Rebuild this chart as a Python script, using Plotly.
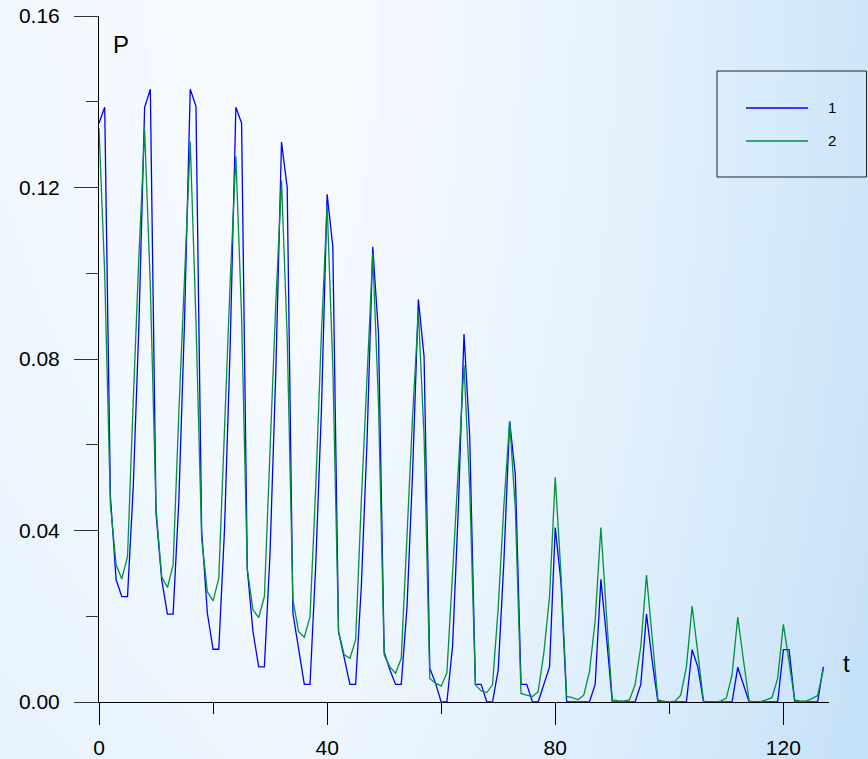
import base64, zlib, struct
import plotly.graph_objects as go

# ---------------- data ----------------
t = list(range(128))

series1 = [
    0.135, 0.1387, 0.048, 0.0285, 0.0246, 0.0246, 0.050, 0.088,
    0.1387, 0.1429, 0.044, 0.0285, 0.0205, 0.0205, 0.047, 0.089,
    0.1429, 0.139, 0.040, 0.0207, 0.0123, 0.0123, 0.040, 0.083,
    0.1387, 0.135, 0.031, 0.0164, 0.0082, 0.0082, 0.035, 0.077,
    0.1306, 0.120, 0.0207, 0.0127, 0.0041, 0.0041, 0.032, 0.068,
    0.1184, 0.1062, 0.0164, 0.0103, 0.0041, 0.0041, 0.027, 0.061,
    0.1062, 0.086, 0.0117, 0.0075, 0.0041, 0.0041, 0.022, 0.054,
    0.0939, 0.0805, 0.0079, 0.0044, 0.0, 0.0, 0.013, 0.045,
    0.0858, 0.062, 0.0041, 0.0041, 0.0, 0.0, 0.0075, 0.033,
    0.0655, 0.053, 0.0041, 0.0041, 0.0, 0.0, 0.0041, 0.0082,
    0.0407, 0.028, 0.0, 0.0, 0.0, 0.0, 0.0, 0.0041,
    0.0286, 0.015, 0.0, 0.0, 0.0, 0.0, 0.0, 0.0041,
    0.0205, 0.0096, 0.0, 0.0, 0.0, 0.0, 0.0, 0.0,
    0.0122, 0.0082, 0.0, 0.0, 0.0, 0.0, 0.0, 0.0,
    0.0081, 0.0041, 0.0, 0.0, 0.0, 0.0, 0.0, 0.0,
    0.0122, 0.0122, 0.0, 0.0, 0.0, 0.0, 0.0, 0.0082,
]

series2 = [
    0.1338, 0.100, 0.046, 0.032, 0.0287, 0.0339, 0.070, 0.104,
    0.1334, 0.097, 0.045, 0.0292, 0.0267, 0.032, 0.0675, 0.101,
    0.1307, 0.089, 0.038, 0.0257, 0.0236, 0.0288, 0.064, 0.098,
    0.1273, 0.090, 0.031, 0.0215, 0.0197, 0.0246, 0.059, 0.093,
    0.1216, 0.085, 0.0238, 0.0164, 0.0151, 0.0199, 0.050, 0.086,
    0.116, 0.078, 0.0164, 0.011, 0.0102, 0.0145, 0.047, 0.077,
    0.1046, 0.070, 0.011, 0.0082, 0.0067, 0.0102, 0.039, 0.067,
    0.091, 0.062, 0.0055, 0.0044, 0.0037, 0.0068, 0.030, 0.056,
    0.0786, 0.050, 0.004, 0.0026, 0.0022, 0.004, 0.022, 0.046,
    0.0655, 0.045, 0.002, 0.0016, 0.0013, 0.0024, 0.0114, 0.0246,
    0.0524, 0.030, 0.0013, 0.001, 0.0005, 0.0016, 0.0071, 0.019,
    0.0407, 0.020, 0.0005, 0.0003, 0.0002, 0.0005, 0.004, 0.013,
    0.0296, 0.015, 0.0005, 0.0002, 0.0, 0.0002, 0.0016, 0.0082,
    0.0224, 0.0114, 0.0002, 0.0, 0.0, 0.0002, 0.0009, 0.0063,
    0.0198, 0.0098, 0.0002, 0.0, 0.0001, 0.0005, 0.001, 0.0055,
    0.0181, 0.0093, 0.0005, 0.0002, 0.0002, 0.0008, 0.0015, 0.0075,
]

x_ticks = [0, 40, 80, 120]
x_minor = [20, 60, 100]
y_ticks = [0.0, 0.04, 0.08, 0.12, 0.16]
y_tick_text = ["0.00", "0.04", "0.08", "0.12", "0.16"]
y_minor = [0.02, 0.06, 0.10, 0.14]
names = ["1", "2"]
colors = ["#0000ff", "#00913c"]

# ---------------- background gradient image ----------------
FW, FH = 868, 759
L, R, T, B = 99, 39, 16, 57


def bg_color(x, y):
    c0 = (247, 251, 255)
    c1 = (198, 226, 248)
    f = 0.0
    if x > 260:
        f += 0.85 * ((x - 260) / (FW - 260)) ** 1.6
    else:
        f += 0.14 * ((260 - x) / 260)
    f += 0.2 * (y / FH) ** 2
    f = max(0.0, min(1.0, f))
    return tuple(int(round(a + (b - a) * f)) for a, b in zip(c0, c1))


def make_png(w, h):
    raw = bytearray()
    for j in range(h):
        raw.append(0)
        y = (j + 0.5) / h * FH
        for i in range(w):
            x = (i + 0.5) / w * FW
            raw += bytes(bg_color(x, y))

    def chunk(tp, data):
        c = struct.pack(">I", len(data)) + tp + data
        return c + struct.pack(">I", zlib.crc32(tp + data) & 0xFFFFFFFF)

    png = b"\x89PNG\r\n\x1a\n"
    png += chunk(b"IHDR", struct.pack(">IIBBBBB", w, h, 8, 2, 0, 0, 0))
    png += chunk(b"IDAT", zlib.compress(bytes(raw), 9))
    png += chunk(b"IEND", b"")
    return "data:image/png;base64," + base64.b64encode(png).decode()


bg_src = make_png(217, 190)
PW, PH = FW - L - R, FH - T - B

# ---------------- figure ----------------
fig = go.Figure()
for ys, nm, col in [(series1, names[0], colors[0]), (series2, names[1], colors[1])]:
    fig.add_trace(go.Scatter(x=t, y=ys, mode="lines", name=nm,
                             line=dict(color=col, width=1.3),
                             showlegend=False, cliponaxis=False))

font_family = "Liberation Sans, Arial, sans-serif"

fig.update_layout(
    width=FW, height=FH, autosize=False,
    margin=dict(l=L, r=R, t=T, b=B, pad=0, autoexpand=False),
    paper_bgcolor="white",
    plot_bgcolor="rgba(0,0,0,0)",
    font=dict(family=font_family, color="black"),
    images=[dict(source=bg_src, xref="paper", yref="paper",
                 x=-L / PW, y=1 + T / PH, sizex=FW / PW, sizey=FH / PH,
                 xanchor="left", yanchor="top", sizing="stretch", layer="below")],
    xaxis=dict(range=[0, 128], tickvals=x_ticks, ticks="outside", ticklen=22,
               tickcolor="black", tickwidth=1, showline=True, linecolor="black",
               linewidth=1, showgrid=False, zeroline=False, layer="below traces",
               automargin=False,
               tickfont=dict(size=21, family=font_family), ticklabelstandoff=5,
               minor=dict(tickvals=x_minor, ticks="outside", ticklen=11,
                          tickcolor="black", tickwidth=1, showgrid=False)),
    yaxis=dict(range=[0, 0.16], tickvals=y_ticks, ticktext=y_tick_text,
               ticks="outside", ticklen=24, tickcolor="#333", tickwidth=1,
               showline=True, linecolor="black", linewidth=1, showgrid=False,
               zeroline=False, layer="below traces", automargin=False,
               tickfont=dict(size=21, family=font_family), ticklabelstandoff=10,
               minor=dict(tickvals=y_minor, ticks="outside", ticklen=12,
                          tickcolor="#333", tickwidth=1, showgrid=False)),
)

# axis titles
fig.add_annotation(text="P", xref="paper", yref="paper",
                   x=(121 - L) / PW, y=1 - (44 - T) / PH, showarrow=False,
                   font=dict(size=24, family=font_family), xanchor="center", yanchor="middle")
fig.add_annotation(text="t", xref="paper", yref="paper",
                   x=(846 - L) / PW, y=1 - (663 - T) / PH, showarrow=False,
                   font=dict(size=24, family=font_family), xanchor="center", yanchor="middle")


def px_x(p):
    return (p - L) / PW


def px_y(p):
    return 1 - (p - T) / PH


# legend box
fig.add_shape(type="rect", xref="paper", yref="paper",
              x0=px_x(717), x1=px_x(866.5), y0=px_y(177), y1=px_y(71),
              line=dict(color="#222", width=1), fillcolor="rgba(0,0,0,0)")
for k, (nm, col) in enumerate(zip(names, colors)):
    yy = 108 + 33 * k
    fig.add_shape(type="line", xref="paper", yref="paper",
                  x0=px_x(746), x1=px_x(808), y0=px_y(yy), y1=px_y(yy),
                  line=dict(color=col, width=1.3))
    fig.add_annotation(text=nm, xref="paper", yref="paper",
                       x=px_x(832), y=px_y(yy), showarrow=False,
                       font=dict(size=15, family=font_family),
                       xanchor="center", yanchor="middle")

fig.write_html("out.html",
               config={"displayModeBar": False},
               post_script="document.body.style.margin='0';"
                           "document.body.style.overflow='hidden';")
